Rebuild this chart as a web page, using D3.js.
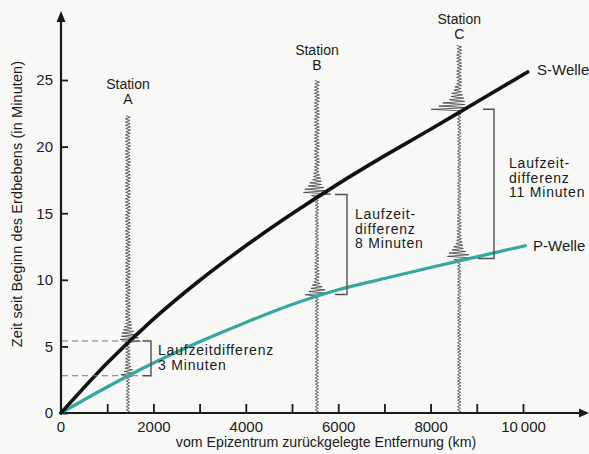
<!DOCTYPE html>
<html><head><meta charset="utf-8">
<script src="https://cdn.jsdelivr.net/npm/d3@7/dist/d3.min.js"></script>
<style>
html,body{margin:0;padding:0;background:#f8f9f7;}
svg{display:block;font-family:"Liberation Sans",Arial,Helvetica,sans-serif;}
</style></head><body>
<svg id="c" width="589" height="454"></svg>
<script>
// ---- data ----
const sWaveKm  = [0, 1000, 2000, 3000, 4000, 5000, 6000, 7000, 8000, 9000, 10100];
const sWaveMin = [0, 3.75, 7.05, 9.95, 12.55, 14.95, 17.2, 19.3, 21.3, 23.35, 25.6];
const pWaveKm  = [0, 1000, 2000, 3000, 4000, 5000, 6000, 7000, 8000, 9000, 10050];
const pWaveMin = [0, 1.95, 3.75, 5.35, 6.8, 8.15, 9.25, 10.1, 10.92, 11.72, 12.56];
const stationNames = ["A", "B", "C"];
const stationKm    = [1450, 5540, 8620];
const stationTop   = [22.4, 25.0, 27.6];   // end of each seismogram (min)
const pArrival     = [2.8, 8.9, 11.6];     // P arrival at each station (min)
const sArrival     = [5.4, 16.4, 22.8];    // S arrival at each station (min)
const diffLabels   = [["Laufzeitdifferenz", "3 Minuten"],
                      ["Laufzeit-", "differenz", "8 Minuten"],
                      ["Laufzeit-", "differenz", "11 Minuten"]];
const xTickValues  = [1000, 2000, 3000, 4000, 5000, 6000, 7000, 8000, 9000, 10000];
const xTickLabels  = [0, 2000, 4000, 6000, 8000, 10000];
const yTickValues  = [0, 5, 10, 15, 20, 25];
const xTitle = "vom Epizentrum zurückgelegte Entfernung (km)";
const yTitle = "Zeit seit Beginn des Erdbebens (in Minuten)";

// ---- drawing ----
const svg = d3.select("#c");
const x = d3.scaleLinear().domain([0, 10000]).range([61, 523]);
const y = d3.scaleLinear().domain([0, 25]).range([413, 80]);
const ink = "#1a1a1a";

svg.append("rect").attr("width", 589).attr("height", 454).attr("fill", "#f8f9f7");

// axes
const fmtX = d => xTickLabels.includes(d) ? (d >= 10000 ? d3.format(",")(d).replace(",", "\u2009") : String(d)) : "";
const gx = svg.append("g").attr("transform", `translate(0,${y(0)})`)
  .call(d3.axisBottom(x).tickValues(xTickValues).tickSize(-9).tickPadding(8).tickFormat(fmtX));
gx.select(".domain").remove();
gx.selectAll(".tick line").attr("stroke", ink).attr("stroke-width", 1.8);
gx.selectAll(".tick text").attr("font-size", 15).attr("fill", ink).attr("font-family", "Liberation Sans, Arial, sans-serif");
gx.append("text").attr("x", x(0)).attr("y", 8).attr("dy", "0.71em").attr("text-anchor", "middle")
  .attr("font-size", 15).attr("fill", ink).text(xTickLabels[0]);

const gy = svg.append("g").attr("transform", `translate(${x(0)},0)`)
  .call(d3.axisLeft(y).tickValues(yTickValues).tickSize(-7).tickPadding(8));
gy.select(".domain").remove();
gy.selectAll(".tick line").attr("stroke", ink).attr("stroke-width", 1.8);
gy.selectAll(".tick text").attr("font-size", 15).attr("fill", ink).attr("font-family", "Liberation Sans, Arial, sans-serif");

// axis lines with arrows
svg.append("line").attr("x1", x(0) - 1).attr("x2", 580).attr("y1", y(0)).attr("y2", y(0))
  .attr("stroke", ink).attr("stroke-width", 2.2);
svg.append("path").attr("d", `M589,${y(0)} L579,${y(0) - 4.5} L579,${y(0) + 4.5} Z`).attr("fill", ink);
svg.append("line").attr("x1", x(0)).attr("x2", x(0)).attr("y1", y(0) + 1).attr("y2", 21)
  .attr("stroke", ink).attr("stroke-width", 2.2);
svg.append("path").attr("d", `M${x(0)},11 L${x(0) - 4.5},22 L${x(0) + 4.5},22 Z`).attr("fill", ink);

// axis titles
svg.append("text").attr("x", 326).attr("y", 447).attr("text-anchor", "middle")
  .attr("font-size", 14.2).attr("fill", ink).text(xTitle);
svg.append("text").attr("transform", "translate(22,204) rotate(-90)").attr("text-anchor", "middle")
  .attr("font-size", 14.5).attr("fill", ink).attr("letter-spacing", 0.1).text(yTitle);

// seismograms
const pattern = [1, 0.82, 0.95, 0.7, 1, 0.88, 0.78, 0.96, 0.85, 0.92];
const burst = { // [left px, right px, decay tau min]
  P: [[8, 9, 0.7], [15, 15, 0.6], [17, 15, 0.8]],
  S: [[11, 14, 1.0], [19, 15, 0.9], [28, 12, 0.9]]
};
stationKm.forEach((km, i) => {
  const pts = [];
  let k = 0;
  for (let t = 0; t <= stationTop[i] + 1e-9; t += 0.12, k++) {
    const side = k % 2 === 0 ? -1 : 1;
    let base = 1.8;
    if (t > pArrival[i]) base = Math.max(base, 2.4 * Math.exp(-(t - pArrival[i]) / 6) + 0.6);
    if (t > sArrival[i]) base = Math.max(base, 2.6);
    const env = (t0, tau) => t >= t0 ? Math.exp(-(t - t0) / tau) : Math.exp((t - t0) / 0.08);
    const eP = env(pArrival[i], burst.P[i][2]);
    const eS = env(sArrival[i], burst.S[i][2]);
    const aL = Math.max(base, burst.P[i][0] * eP, burst.S[i][0] * eS);
    const aR = Math.max(base, burst.P[i][1] * eP, burst.S[i][1] * eS);
    const m = pattern[k % pattern.length];
    pts.push([x(km) + (side < 0 ? -aL : aR) * m, y(t)]);
  }
  svg.append("path").attr("d", d3.line()(pts)).attr("fill", "none")
    .attr("stroke", "#333").attr("stroke-width", 0.75).attr("stroke-linejoin", "miter");
});

// wave curves
const line = d3.line().curve(d3.curveMonotoneX);
svg.append("path").attr("d", line(pWaveKm.map((d, i) => [x(d), y(pWaveMin[i])])))
  .attr("fill", "none").attr("stroke", "#35a7a1").attr("stroke-width", 3.2).attr("stroke-linecap", "round");
svg.append("path").attr("d", line(sWaveKm.map((d, i) => [x(d), y(sWaveMin[i])])))
  .attr("fill", "none").attr("stroke", "#111").attr("stroke-width", 3.6).attr("stroke-linecap", "round");

// station labels
const labelBase = [89, 55, 24];
stationNames.forEach((n, i) => {
  const t = svg.append("text").attr("x", x(stationKm[i])).attr("y", labelBase[i])
    .attr("text-anchor", "middle").attr("font-size", 14).attr("fill", ink);
  t.append("tspan").attr("x", x(stationKm[i])).attr("dy", 0).text("Station");
  t.append("tspan").attr("x", x(stationKm[i])).attr("dy", 15).text(n);
});

// dashed guide lines for station A
[sArrival[0], pArrival[0]].forEach(v => {
  svg.append("line").attr("x1", x(0) + 1).attr("x2", 143).attr("y1", y(v)).attr("y2", y(v))
    .attr("stroke", "#777").attr("stroke-width", 1.1).attr("stroke-dasharray", "6,4");
});

// brackets
const bracketX = [151, 347, 494];
const bracketTick = [[8, 8], [12, 12], [11, 16]];
stationKm.forEach((km, i) => {
  const bx = bracketX[i], yt = y(sArrival[i]), yb = y(pArrival[i]);
  svg.append("path")
    .attr("d", `M${bx - bracketTick[i][0]},${yt} H${bx} V${yb} H${bx - bracketTick[i][1]}`)
    .attr("fill", "none").attr("stroke", "#505050").attr("stroke-width", 1.4);
});

// difference labels
const textX = [158, 355, 509];
const textY = [355, 219, 168];
diffLabels.forEach((lines, i) => {
  const t = svg.append("text").attr("x", textX[i]).attr("y", textY[i])
    .attr("font-size", 14).attr("fill", ink).attr("letter-spacing", 0.8);
  lines.forEach((l, j) => t.append("tspan").attr("x", textX[i]).attr("dy", j ? 14.5 : 0).text(l));
});

// wave names
svg.append("text").attr("x", 537).attr("y", 75).attr("font-size", 15).attr("fill", ink).text("S-Welle");
svg.append("text").attr("x", 533).attr("y", 251).attr("font-size", 15).attr("fill", ink).text("P-Welle");
</script>
</body></html>
